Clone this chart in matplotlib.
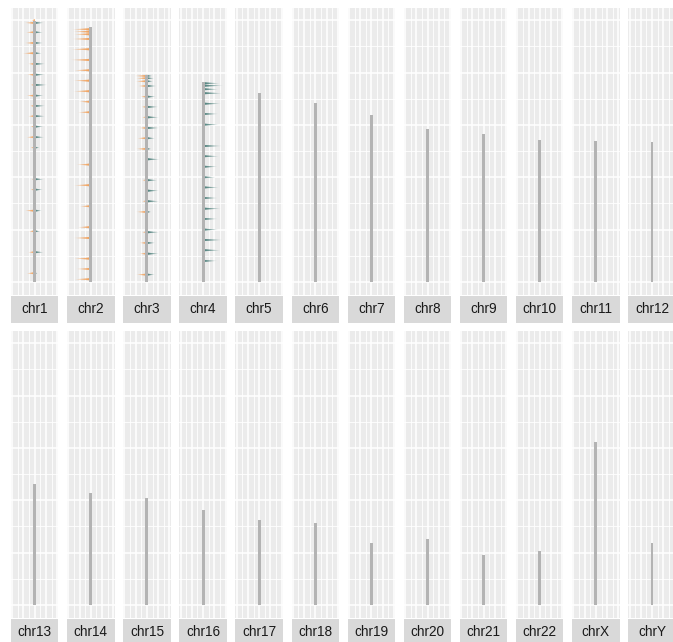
import matplotlib
matplotlib.use("Agg")
import matplotlib.pyplot as plt
from matplotlib.patches import Polygon

# ---------------- data ----------------
chroms = ["chr1", "chr2", "chr3", "chr4", "chr5", "chr6", "chr7", "chr8",
          "chr9", "chr10", "chr11", "chr12", "chr13", "chr14", "chr15", "chr16",
          "chr17", "chr18", "chr19", "chr20", "chr21", "chr22", "chrX", "chrY"]
chrom_len = [249.25, 243.20, 198.02, 191.15, 180.92, 171.12, 159.14, 146.36,
             141.21, 135.53, 135.01, 133.85, 115.17, 107.35, 102.53, 90.35,
             81.20, 78.08, 59.13, 63.03, 48.13, 51.30, 155.27, 59.37]

# feature positions (Mb) and spike lengths (left = orange, right = teal)
chr1_pos = [250.0, 247.5, 238.5, 228.3, 218.5, 208.3, 198.0, 188.2, 178.0, 168.2,
            158.4, 148.4, 138.3, 128.3, 98.1, 88.2, 68.1, 48.4, 28.4, 8.3]
chr1_left = [2.5, 8.6, 7.7, 8.6, 10.7, 5.6, 6.5, 3.6, 7.1, 4.2,
             5.6, 3.6, 7.1, 3.6, 2.7, 3.6, 8.6, 5.1, 5.6, 7.1]
chr1_right = [0.0, 7.7, 7.1, 7.1, 6.2, 9.1, 8.6, 10.9, 7.7, 9.1,
              9.1, 7.7, 8.3, 4.2, 7.7, 7.1, 6.2, 4.7, 7.7, 2.4]

chr2_pos = [241.4, 239.1, 236.6, 232.1, 222.3, 212.1, 202.2, 192.3, 182.2, 172.2,
            162.1, 112.1, 92.4, 72.3, 52.3, 42.0, 22.3, 12.4, 2.6]
chr2_left = [16.6, 15.7, 15.1, 16.6, 17.5, 18.0, 15.1, 15.7, 15.7, 10.7,
             11.5, 12.7, 15.1, 9.8, 11.5, 15.1, 15.1, 12.7, 14.5]

chr3_pos = [196.8, 194.6, 191.7, 187.2, 177.0, 167.2, 157.3, 147.1, 137.3, 127.1,
            117.2, 97.2, 87.2, 77.1, 66.9, 47.5, 37.3, 27.0, 7.0]
chr3_left = [10.7, 9.5, 10.0, 7.7, 5.6, 4.7, 4.2, 6.5, 8.6, 9.5,
             1.8, 4.2, 1.8, 4.2, 9.5, 4.2, 6.5, 6.5, 9.5]
chr3_right = [4.7, 6.2, 5.3, 8.3, 7.7, 10.0, 10.7, 10.7, 7.1, 3.6,
              11.3, 9.1, 10.7, 10.7, 3.6, 10.7, 7.1, 10.7, 6.8]

chr4_pos = [189.8, 187.5, 184.1, 180.3, 170.3, 160.5, 150.3, 129.9, 120.1, 110.1,
            100.0, 90.3, 80.2, 70.0, 60.2, 50.0, 40.1, 30.3, 20.1]
chr4_right = [14.8, 17.8, 13.3, 16.9, 15.7, 13.3, 13.9, 16.3, 13.9, 12.7,
              10.9, 14.0, 12.7, 15.7, 12.7, 13.3, 17.1, 15.4, 12.2]

features = {
    "chr1": (chr1_pos, chr1_left, chr1_right),
    "chr2": (chr2_pos, chr2_left, [0.0] * len(chr2_pos)),
    "chr3": (chr3_pos, chr3_left, chr3_right),
    "chr4": (chr4_pos, [0.0] * len(chr4_pos), chr4_right),
}

# ---------------- style ----------------
ORANGE = "#F5994A"
TEAL = "#3F7772"
BAR = "#B3B3B3"
PANEL_BG = "#EBEBEB"
STRIP_BG = "#D9D9D9"

W, H = 673, 642
fig = plt.figure(figsize=(W / 100, H / 100), dpi=100)
fig.patch.set_facecolor("white")

X_HALF = 21.05
Y_MAX = max(chrom_len)
Y_PAD = Y_MAX * 0.05


def px_axes(left, top, width, height):
    return fig.add_axes([left / W, 1 - (top + height) / H, width / W, height / H])


def draw_spike(ax, y, length, direction, color, n=10, half=1.1):
    if length <= 0:
        return
    for k in range(1, n + 1):
        L = length * k / n
        poly = Polygon([(0, y - half), (direction * L, y), (0, y + half)],
                       closed=True, facecolor=color, edgecolor="none",
                       alpha=0.2, zorder=2)
        ax.add_patch(poly)


panel_w = 47.4
col_step = 56.12
left0 = 11.0
rows = [(8.0, 287.0, 295.5), (331.0, 287.0, 618.5)]
strip_h = 27.5

for i, (name, clen) in enumerate(zip(chroms, chrom_len)):
    r, c = divmod(i, 12)
    top, ph, stop = rows[r]
    lx = left0 + col_step * c
    ax = px_axes(lx, top, panel_w, ph)
    ax.set_facecolor(PANEL_BG)
    ax.set_xlim(-X_HALF, X_HALF)
    ax.set_ylim(-Y_PAD, Y_MAX + Y_PAD)
    ax.set_xticks([-20, -10, 0, 10, 20])
    ax.set_xticks([-15, -5, 5, 15], minor=True)
    ax.set_yticks([0, 50, 100, 150, 200, 250])
    ax.set_yticks([25, 75, 125, 175, 225], minor=True)
    ax.grid(which="major", color="white", lw=1.1)
    ax.grid(which="minor", color="white", lw=0.6)
    ax.set_axisbelow(True)
    ax.tick_params(which="both", length=0, labelbottom=False, labelleft=False)
    for s in ax.spines.values():
        s.set_visible(False)

    if name in features:
        pos, lft, rgt = features[name]
        for p, a, b in zip(pos, lft, rgt):
            draw_spike(ax, p, a, -1, ORANGE)
            draw_spike(ax, p, b, 1, TEAL)

    ax.bar([0], [clen], width=2.6, bottom=0, color=BAR, zorder=3)

    sax = px_axes(lx, stop, panel_w, strip_h)
    sax.set_facecolor(STRIP_BG)
    sax.set_xticks([])
    sax.set_yticks([])
    for s in sax.spines.values():
        s.set_visible(False)
    sax.text(0.5, 0.5, name, ha="center", va="center", fontsize=9.8,
             color="#1A1A1A", family=["Liberation Sans", "DejaVu Sans"],
             transform=sax.transAxes)

fig.savefig("out.png", dpi=100, facecolor="white")
